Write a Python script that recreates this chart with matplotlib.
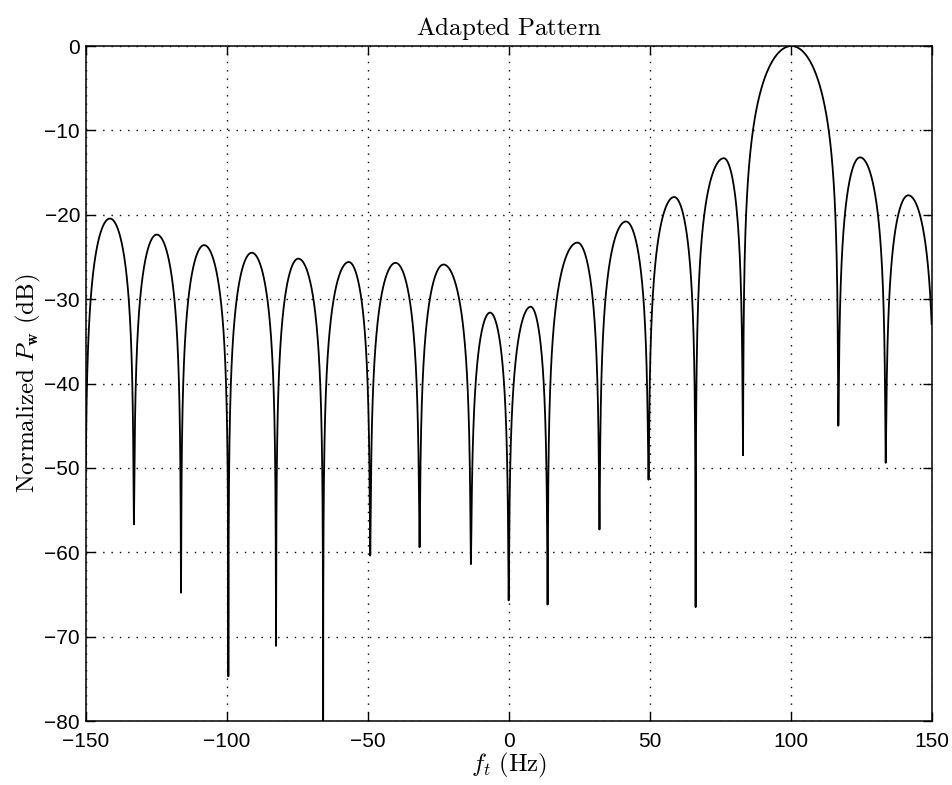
import numpy as np
import matplotlib
matplotlib.use("Agg")
import matplotlib.pyplot as plt

# nulls of the pattern (Hz) and how deep they go (dB)
null_freq = [-150.1, -132.9, -116.2, -99.4, -82.5, -65.8, -49.1, -31.6, -13.4, 0.0,
             13.8, 32.2, 49.6, 66.3, 83.1, 116.9, 133.7, 151.0]
null_depth = [-52, -56.7, -64.8, -74.7, -71.1, -90, -60.4, -59.4, -61.4, -65.7,
              -66.2, -57.3, -51.4, -66.5, -48.5, -45.0, -49.4, -45]

# lobe peaks between the nulls
peak_freq = [-141.4, -124.8, -108.0, -91.1, -74.6, -56.7, -40.1, -23.1, -6.6, 7.8,
             24.4, 41.6, 58.7, 76.3, 100.3, 124.6, 141.7]
peak_level = [-20.45, -22.35, -23.6, -24.5, -25.2, -25.6, -25.7, -25.9, -31.6, -30.9,
              -23.3, -20.8, -17.9, -13.3, 0.0, -13.2, -17.7]

xticks = [-150, -100, -50, 0, 50, 100, 150]
yticks = [0, -10, -20, -30, -40, -50, -60, -70, -80]


def lobe(a, b, fp, lev, da, db, n=600):
    t = np.linspace(0, 1, n)
    u = (1 - np.cos(np.pi * t)) / 2
    f = np.where(u < 0.5, a + (fp - a) * 2 * u, fp + (b - fp) * (2 * u - 1))
    p = 10 ** (lev / 10) * np.sin(np.pi * u) ** 2
    p = p + 10 ** (da / 10) * np.cos(np.pi * u / 2) ** 2 + 10 ** (db / 10) * np.sin(np.pi * u / 2) ** 2
    return f, 10 * np.log10(p)


fs = []
ps = []
for i in range(len(peak_freq)):
    f, p = lobe(null_freq[i], null_freq[i + 1], peak_freq[i], peak_level[i],
                null_depth[i], null_depth[i + 1])
    fs.append(f)
    ps.append(p)
fs = np.concatenate(fs)
ps = np.concatenate(ps)

plt.rcParams['mathtext.fontset'] = 'cm'
plt.rcParams['font.family'] = ['Liberation Sans', 'DejaVu Sans']

fig = plt.figure(figsize=(9.53, 7.85), dpi=100)
ax = fig.add_axes([0.0899, 0.0815, 0.8877, 0.8599])
ax.plot(fs, ps, color='black', linewidth=1.3)
ax.set_xlim(-150, 150)
ax.set_ylim(-80, 0)
ax.set_xticks(xticks)
ax.set_yticks(yticks)
ax.grid(True, color='black', linestyle=(0, (1, 5)), linewidth=1.0)
ax.tick_params(direction='in', length=6.5, width=1.0, labelsize=15,
               top=True, right=True, pad=4)
ax.tick_params(axis='x', pad=8)
for s in ax.spines.values():
    s.set_linewidth(1.1)

ax.set_title(r"$\mathrm{Adapted\ Pattern}$", fontsize=18, pad=8)
ax.set_xlabel(r"$f_t\ \mathrm{(Hz)}$", fontsize=18, labelpad=0)
ax.set_ylabel(r"$\mathrm{Normalized}\ P_{\mathbf{w}}\ \mathrm{(dB)}$", fontsize=18, labelpad=1)

fig.savefig("out.png", dpi=100)
